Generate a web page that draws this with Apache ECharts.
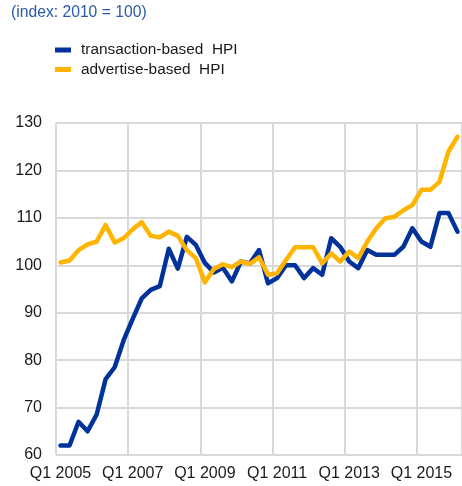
<!DOCTYPE html>
<html>
<head>
<meta charset="utf-8">
<script src="https://cdn.jsdelivr.net/npm/echarts@6/dist/echarts.min.js"></script>
<style>
  html, body { margin: 0; padding: 0; background: #ffffff; }
  #chart { width: 462px; height: 486px; }
</style>
</head>
<body>
<div id="chart"></div>
<script>
// Quarterly house price indices, Q1 2005 - Q1 2016 (2010 = 100)
const years = [2005, 2006, 2007, 2008, 2009, 2010, 2011, 2012, 2013, 2014, 2015, 2016];
const quarters = [];
years.forEach(function (y) {
  for (let q = 1; q <= 4; q++) {
    if (y === 2016 && q > 1) break;
    quarters.push('Q' + q + ' ' + y);
  }
});

const transactionHPI = [
  62.0, 62.0, 67.0, 65.0,
  68.5, 76.0, 78.5, 84.2,
  88.7, 93.0, 94.8, 95.6,
  103.5, 99.3, 106.0, 104.3,
  100.5, 98.5, 99.5, 96.6,
  100.8, 100.4, 103.2, 96.2,
  97.3, 100.0, 100.0, 97.3,
  99.4, 98.0, 105.7, 103.9,
  100.8, 99.4, 103.2, 102.2,
  102.2, 102.2, 103.9, 107.8,
  105.0, 103.9, 111.0, 111.0,
  107.1
];

const advertiseHPI = [
  100.6, 101.0, 103.2, 104.4,
  105.0, 108.5, 104.8, 105.7,
  107.6, 109.1, 106.2, 105.9,
  107.1, 106.2, 103.2, 101.5,
  96.4, 99.2, 100.2, 99.6,
  100.8, 100.3, 101.7, 98.0,
  98.3, 101.1, 103.8, 103.8,
  103.8, 100.4, 102.5, 100.8,
  102.9, 101.5, 105.0, 107.8,
  109.9, 110.2, 111.6, 112.7,
  115.9, 115.9, 117.6, 124.0,
  127.1
];

const yTicks = { min: 60, max: 130, step: 10 };

const font = '"Liberation Sans", Arial, sans-serif';
const blue = '#003299';
const yellow = '#ffb400';
const gridColor = '#d9d9d9';

const chart = echarts.init(document.getElementById('chart'), null, { renderer: 'canvas' });
chart.setOption({
  animation: false,
  backgroundColor: '#ffffff',
  textStyle: { fontFamily: font },
  title: {
    text: '(index: 2010 = 100)',
    left: 11,
    top: 5,
    padding: 0,
    textStyle: { color: '#2a5aa8', fontSize: 15.7, fontWeight: 'normal', fontFamily: font }
  },
  legend: {
    orient: 'vertical',
    left: 55,
    top: 42,
    padding: 0,
    itemWidth: 16,
    itemHeight: 5,
    itemGap: 3.5,
    icon: 'rect',
    textStyle: { color: '#1a1a1a', fontSize: 15.4, fontFamily: font, padding: [0, 0, 0, 5], lineHeight: 16 },
    data: [
      { name: 'transaction-based  HPI', itemStyle: { color: blue } },
      { name: 'advertise-based  HPI', itemStyle: { color: yellow } }
    ]
  },
  grid: { left: 56, right: -3, top: 123, bottom: 31, containLabel: false },
  xAxis: {
    type: 'category',
    data: quarters,
    boundaryGap: true,
    axisLine: { show: false },
    axisTick: { show: false },
    axisLabel: {
      interval: 7,
      color: '#1a1a1a',
      fontSize: 16,
      fontFamily: font,
      margin: 11
    },
    splitLine: { show: true, interval: 7, lineStyle: { color: gridColor, width: 2 } }
  },
  yAxis: {
    type: 'value',
    min: yTicks.min,
    max: yTicks.max,
    interval: yTicks.step,
    axisLine: { show: false },
    axisTick: { show: false },
    axisLabel: { color: '#1a1a1a', fontSize: 16, fontFamily: font, margin: 14 },
    splitLine: { show: true, lineStyle: { color: gridColor, width: 2 } }
  },
  series: [
    {
      name: 'transaction-based  HPI',
      type: 'line',
      data: transactionHPI,
      showSymbol: false,
      symbol: 'none',
      lineStyle: { color: blue, width: 4.5, join: 'round', cap: 'round' },
      itemStyle: { color: blue },
      z: 3
    },
    {
      name: 'advertise-based  HPI',
      type: 'line',
      data: advertiseHPI,
      showSymbol: false,
      symbol: 'none',
      lineStyle: { color: yellow, width: 4.5, join: 'round', cap: 'round' },
      itemStyle: { color: yellow },
      z: 4
    }
  ]
});
</script>
</body>
</html>
